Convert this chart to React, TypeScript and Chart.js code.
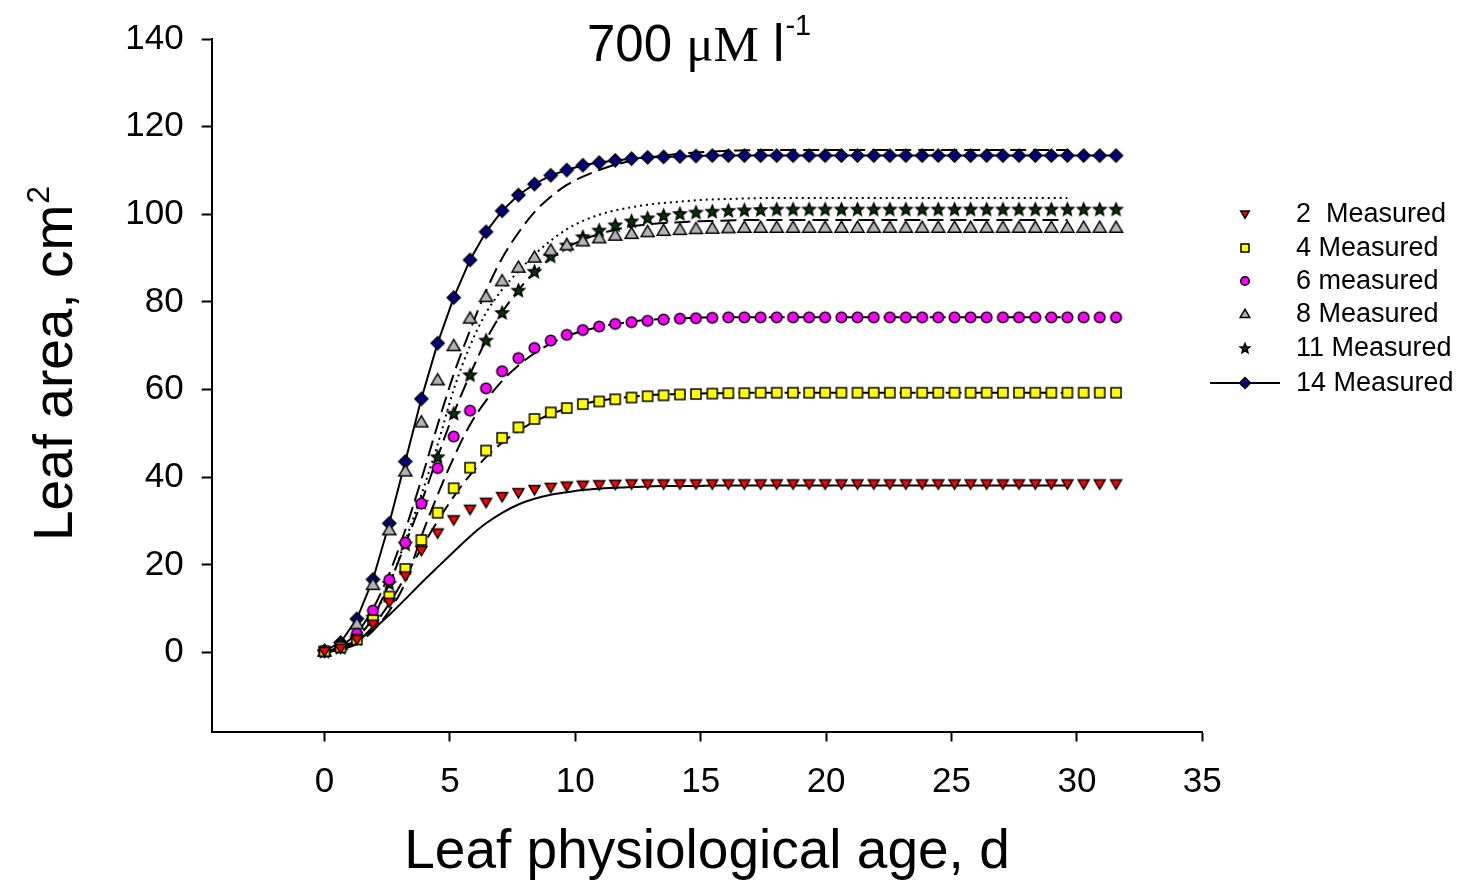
import React, { useEffect, useRef } from 'react';
import { Chart, registerables } from 'chart.js';

Chart.register(...registerables);

// Leaf physiological age (d) of measurement dates
const dayGrid = [
  0, 0.64, 1.29, 1.93, 2.58, 3.22, 3.86, 4.51, 5.15, 5.8,
  6.44, 7.08, 7.73, 8.37, 9.02, 9.66, 10.3, 10.95, 11.59, 12.24,
  12.88, 13.52, 14.17, 14.81, 15.46, 16.1, 16.74, 17.39, 18.03, 18.68,
  19.32, 19.96, 20.61, 21.25, 21.9, 22.54, 23.18, 23.83, 24.47, 25.12,
  25.76, 26.4, 27.05, 27.69, 28.34, 28.98, 29.62, 30.27, 30.91, 31.56,
];

// Measured leaf area (cm2)
const leaf2Measured = [
  0.3, 1.0, 3.0, 6.5, 11.5, 17.5, 23.3, 27.3, 30.3, 32.7,
  34.3, 35.6, 36.5, 37.2, 37.7, 38.0, 38.2, 38.3, 38.4, 38.5,
  38.5, 38.5, 38.5, 38.5, 38.5, 38.5, 38.5, 38.5, 38.5, 38.5,
  38.5, 38.5, 38.5, 38.5, 38.5, 38.5, 38.5, 38.5, 38.5, 38.5,
  38.5, 38.5, 38.5, 38.5, 38.5, 38.5, 38.5, 38.5, 38.5, 38.5,
];
const leaf4Measured = [
  0.3, 1.2, 3.0, 7.4, 12.8, 19.1, 25.7, 31.9, 37.5, 42.2,
  46.1, 49.0, 51.4, 53.3, 54.8, 55.8, 56.7, 57.3, 57.8, 58.2,
  58.5, 58.7, 58.9, 59.0, 59.1, 59.2, 59.2, 59.3, 59.3, 59.3,
  59.3, 59.3, 59.3, 59.3, 59.3, 59.3, 59.3, 59.3, 59.3, 59.3,
  59.3, 59.3, 59.3, 59.3, 59.3, 59.3, 59.3, 59.3, 59.3, 59.3,
];
const leaf6Measured = [
  0.3, 1.5, 4.3, 9.6, 16.6, 25.1, 34.0, 42.1, 49.3, 55.2,
  60.3, 64.2, 67.2, 69.5, 71.2, 72.5, 73.6, 74.4, 75.0, 75.4,
  75.7, 76.0, 76.2, 76.3, 76.4, 76.5, 76.5, 76.5, 76.5, 76.5,
  76.5, 76.5, 76.5, 76.5, 76.5, 76.5, 76.5, 76.5, 76.5, 76.5,
  76.5, 76.5, 76.5, 76.5, 76.5, 76.5, 76.5, 76.5, 76.5, 76.5,
];
const leaf8Measured = [
  0.3, 1.8, 6.5, 15.5, 28.0, 41.4, 52.6, 62.2, 70.0, 76.3,
  81.2, 84.8, 87.9, 90.2, 91.8, 93.0, 93.9, 94.6, 95.2, 95.6,
  96.0, 96.3, 96.5, 96.7, 96.8, 96.9, 97.0, 97.0, 97.0, 97.0,
  97.0, 97.0, 97.0, 97.0, 97.0, 97.0, 97.0, 97.0, 97.0, 97.0,
  97.0, 97.0, 97.0, 97.0, 97.0, 97.0, 97.0, 97.0, 97.0, 97.0,
];
const leaf11Measured = [
  0.3, 1.2, 3.2, 8.1, 15.8, 24.8, 34.3, 44.7, 54.6, 63.4,
  71.3, 77.6, 82.7, 87.0, 90.5, 93.0, 94.9, 96.4, 97.6, 98.5,
  99.2, 99.8, 100.2, 100.5, 100.7, 100.9, 101.0, 101.1, 101.2, 101.2,
  101.2, 101.2, 101.2, 101.2, 101.2, 101.2, 101.2, 101.2, 101.2, 101.2,
  101.2, 101.2, 101.2, 101.2, 101.2, 101.2, 101.2, 101.2, 101.2, 101.2,
];
const leaf14Measured = [
  0.4, 2.3, 7.7, 16.7, 29.5, 43.6, 57.9, 70.6, 81.0, 89.6,
  96.0, 100.8, 104.4, 106.9, 108.9, 110.1, 111.2, 111.8, 112.3, 112.7,
  113.0, 113.1, 113.2, 113.3, 113.4, 113.4, 113.4, 113.4, 113.4, 113.4,
  113.4, 113.4, 113.4, 113.4, 113.4, 113.4, 113.4, 113.4, 113.4, 113.4,
  113.4, 113.4, 113.4, 113.4, 113.4, 113.4, 113.4, 113.4, 113.4, 113.4,
];

// Simulated leaf area (cm2), first 47 dates
const leaf2Model = [
  0, 1.2, 2.8, 5.3, 8.6, 12.2, 15.9, 19.5, 23.0, 26.5,
  29.5, 31.9, 33.8, 35.1, 36.0, 36.6, 37.1, 37.4, 37.6, 37.8,
  37.9, 38.0, 38.0, 38.0, 38.1, 38.1, 38.1, 38.1, 38.1, 38.1,
  38.1, 38.1, 38.1, 38.1, 38.1, 38.1, 38.1, 38.1, 38.1, 38.1,
  38.1, 38.1, 38.1, 38.1, 38.1, 38.1, 38.1,
];
const leaf4Model = [
  0, 0.8, 2.5, 6.0, 11.2, 17.3, 23.8, 30.0, 35.6, 40.5,
  44.6, 47.9, 50.6, 52.7, 54.4, 55.7, 56.7, 57.5, 58.0, 58.4,
  58.7, 58.9, 59.0, 59.1, 59.2, 59.2, 59.3, 59.3, 59.3, 59.3,
  59.3, 59.3, 59.3, 59.3, 59.3, 59.3, 59.3, 59.3, 59.3, 59.3,
  59.3, 59.3, 59.3, 59.3, 59.3, 59.3, 59.3,
];
const leaf6Model = [
  0, 0.7, 2.0, 5.0, 9.5, 16.0, 26.5, 36.0, 44.5, 52.0,
  57.5, 62.0, 65.5, 68.3, 70.5, 72.2, 73.4, 74.3, 75.0, 75.5,
  75.9, 76.1, 76.3, 76.4, 76.5, 76.5, 76.5, 76.5, 76.5, 76.5,
  76.5, 76.5, 76.5, 76.5, 76.5, 76.5, 76.5, 76.5, 76.5, 76.5,
  76.5, 76.5, 76.5, 76.5, 76.5, 76.5, 76.5,
];
const leaf8Model = [
  0, 1.0, 3.2, 8.1, 15.8, 24.8, 34.3, 44.7, 54.6, 63.4,
  71.3, 77.6, 82.7, 86.8, 90.0, 92.4, 94.2, 95.5, 96.5, 97.2,
  97.7, 98.0, 98.2, 98.4, 98.5, 98.6, 98.7, 98.7, 98.7, 98.7,
  98.7, 98.7, 98.7, 98.7, 98.7, 98.7, 98.7, 98.7, 98.7, 98.7,
  98.7, 98.7, 98.7, 98.7, 98.7, 98.7, 98.7,
];
const leaf11Model = [
  0, 1.0, 3.5, 8.0, 15.5, 25.5, 36.0, 47.5, 60.0, 70.0,
  77.5, 82.8, 87.0, 90.8, 94.0, 96.6, 98.5, 99.9, 100.9, 101.6,
  102.2, 102.6, 102.9, 103.2, 103.4, 103.5, 103.6, 103.7, 103.7, 103.7,
  103.7, 103.7, 103.7, 103.7, 103.7, 103.7, 103.7, 103.7, 103.7, 103.7,
  103.7, 103.7, 103.7, 103.7, 103.7, 103.7, 103.7,
];
const leaf14Model = [
  0, 1.5, 4.5, 10.0, 18.0, 28.0, 39.5, 52.0, 63.5, 73.5,
  82.5, 90.0, 95.8, 100.5, 104.0, 106.7, 108.6, 110.1, 111.3, 112.2,
  112.9, 113.4, 113.8, 114.1, 114.3, 114.5, 114.6, 114.7, 114.7, 114.7,
  114.7, 114.7, 114.7, 114.7, 114.7, 114.7, 114.7, 114.7, 114.7, 114.7,
  114.7, 114.7, 114.7, 114.7, 114.7, 114.7, 114.7,
];

const xTickValues = [0, 5, 10, 15, 20, 25, 30, 35];
const yTickValues = [0, 20, 40, 60, 80, 100, 120, 140];
const legendLabels = ['2  Measured', '4 Measured', '6 measured', '8 Measured', '11 Measured', '14 Measured'];

type Kind = 'tdown' | 'square' | 'circle' | 'tup' | 'star' | 'diamond';
const markerKinds: Kind[] = ['tdown', 'square', 'circle', 'tup', 'star', 'diamond'];
const markerFills = ['#ff0000', '#ffff00', '#ff00ff', '#b4b4b4', '#003a00', '#000080'];
const chartSizes = [5.5, 5, 5.3, 6.5, 6.5, 6.5];
const legendSizes = [4.3, 4, 4.3, 4.8, 5, 5.5];

function shapePath(ctx: CanvasRenderingContext2D, kind: Kind, x: number, y: number, s: number) {
  ctx.beginPath();
  if (kind === 'tdown') {
    ctx.moveTo(x - s, y - s * 0.72);
    ctx.lineTo(x + s, y - s * 0.72);
    ctx.lineTo(x, y + s * 0.98);
    ctx.closePath();
  } else if (kind === 'tup') {
    ctx.moveTo(x - s, y + s * 0.72);
    ctx.lineTo(x + s, y + s * 0.72);
    ctx.lineTo(x, y - s * 0.98);
    ctx.closePath();
  } else if (kind === 'square') {
    ctx.rect(x - s, y - s, 2 * s, 2 * s);
  } else if (kind === 'circle') {
    ctx.arc(x, y, s, 0, Math.PI * 2);
  } else if (kind === 'diamond') {
    ctx.moveTo(x, y - s);
    ctx.lineTo(x + s, y);
    ctx.lineTo(x, y + s);
    ctx.lineTo(x - s, y);
    ctx.closePath();
  } else {
    for (let k = 0; k < 10; k++) {
      const r = k % 2 === 0 ? s : s * 0.45;
      const a = -Math.PI / 2 + (k * Math.PI) / 5;
      const px = x + r * Math.cos(a);
      const py = y + r * Math.sin(a) + s * 0.1;
      if (k === 0) ctx.moveTo(px, py);
      else ctx.lineTo(px, py);
    }
    ctx.closePath();
  }
}

function drawMarker(ctx: CanvasRenderingContext2D, idx: number, x: number, y: number, s: number) {
  shapePath(ctx, markerKinds[idx], x, y, s);
  ctx.fillStyle = markerFills[idx];
  ctx.fill();
  ctx.lineWidth = 1.5;
  ctx.strokeStyle = '#000';
  ctx.lineJoin = 'miter';
  ctx.stroke();
}

function markerImage(idx: number): HTMLCanvasElement {
  const s = chartSizes[idx];
  const size = Math.ceil(s * 2 + 6);
  const c = document.createElement('canvas');
  c.width = size;
  c.height = size;
  const ctx = c.getContext('2d')!;
  drawMarker(ctx, idx, size / 2, size / 2, s);
  return c;
}

const SANS = '"Liberation Sans", Arial, sans-serif';
const SERIF = '"Liberation Serif", "Times New Roman", serif';

const textPlugin = {
  id: 'textPlugin',
  afterDraw(chart: any) {
    const ctx: CanvasRenderingContext2D = chart.ctx;
    ctx.save();
    ctx.fillStyle = '#000';
    ctx.textBaseline = 'alphabetic';
    ctx.textAlign = 'left';

    // Title: 700 μM l-1
    let x = 587;
    const base = 61;
    ctx.font = `51px ${SANS}`;
    ctx.fillText('700 ', x, base);
    x += ctx.measureText('700 ').width;
    ctx.font = `51px ${SERIF}`;
    ctx.fillText('μM', x, base);
    x += ctx.measureText('μM').width;
    ctx.font = `51px ${SANS}`;
    ctx.fillText(' l', x, base);
    x += ctx.measureText(' l').width;
    ctx.font = `29px ${SANS}`;
    ctx.fillText('-1', x + 1, 35);

    // X axis title
    ctx.font = `55px ${SANS}`;
    ctx.textAlign = 'center';
    ctx.fillText('Leaf physiological age, d', 707, 868);

    // Y axis title
    ctx.save();
    ctx.translate(72, 541);
    ctx.rotate(-Math.PI / 2);
    ctx.textAlign = 'left';
    ctx.font = `55px ${SANS}`;
    ctx.fillText('Leaf area, cm', 0, 0);
    const w = ctx.measureText('Leaf area, cm').width;
    ctx.font = `32px ${SANS}`;
    ctx.fillText('2', w + 1, -23);
    ctx.restore();

    // Legend
    const rowsY = [214, 248, 281, 314, 348, 383];
    ctx.font = `27px ${SANS}`;
    ctx.textAlign = 'left';
    ctx.textBaseline = 'middle';
    for (let i = 0; i < legendLabels.length; i++) {
      const y = rowsY[i];
      if (i === 5) {
        ctx.beginPath();
        ctx.moveTo(1210, y);
        ctx.lineTo(1280, y);
        ctx.lineWidth = 2;
        ctx.strokeStyle = '#000';
        ctx.setLineDash([]);
        ctx.stroke();
      }
      drawMarker(ctx, i, 1245, y, legendSizes[i]);
      ctx.fillStyle = '#000';
      ctx.fillText(legendLabels[i], 1296, y + 1);
    }
    ctx.restore();
  },
};

function pts(values: number[]) {
  return values.map((v, i) => ({ x: dayGrid[i], y: v }));
}

export default function App() {
  const ref = useRef<HTMLCanvasElement | null>(null);

  useEffect(() => {
    if (!ref.current) return;
    const measuredSets = [leaf2Measured, leaf4Measured, leaf6Measured, leaf8Measured, leaf11Measured, leaf14Measured];
    const modelSets = [leaf2Model, leaf4Model, leaf6Model, leaf8Model, leaf11Model, leaf14Model];
    const modelDash = [[], [16, 7], [16, 7], [16, 7], [2, 4], [16, 7]];

    const datasets: any[] = [];
    measuredSets.forEach((vals, i) => {
      datasets.push({
        label: legendLabels[i],
        data: pts(vals),
        showLine: i === 5,
        borderColor: '#000',
        borderWidth: 2,
        tension: 0,
        pointStyle: markerImage(i),
        pointRadius: 6,
        order: 0,
      });
    });
    modelSets.forEach((vals, i) => {
      datasets.push({
        label: 'model ' + i,
        data: pts(vals),
        showLine: true,
        borderColor: '#000',
        borderWidth: 2,
        borderDash: modelDash[i],
        cubicInterpolationMode: 'monotone',
        pointRadius: 0,
        order: 1,
      });
    });

    const tickFont = { family: SANS, size: 35 };
    const chart = new Chart(ref.current, {
      type: 'line',
      data: { datasets },
      plugins: [textPlugin],
      options: {
        animation: false,
        responsive: false,
        devicePixelRatio: 1,
        layout: { padding: { top: 38, right: 259.7, left: 0, bottom: 0 } },
        plugins: { legend: { display: false }, tooltip: { enabled: false }, title: { display: false } },
        scales: {
          x: {
            type: 'linear',
            min: -4.5,
            max: 35,
            afterBuildTicks: (s: any) => {
              s.ticks = xTickValues.map((v) => ({ value: v }));
            },
            afterFit: (s: any) => {
              s.height = 148.5;
            },
            ticks: { font: tickFont, color: '#000', padding: 20, maxRotation: 0, autoSkip: false },
            grid: { drawOnChartArea: false, drawTicks: true, tickLength: 10, tickWidth: 2, tickColor: '#000' },
            border: { display: true, color: '#000', width: 2 },
          },
          y: {
            type: 'linear',
            min: -18,
            max: 140,
            afterBuildTicks: (s: any) => {
              s.ticks = yTickValues.map((v) => ({ value: v }));
            },
            afterFit: (s: any) => {
              s.width = 211.7;
            },
            ticks: { font: tickFont, color: '#000', padding: 18, autoSkip: false },
            grid: { drawOnChartArea: false, drawTicks: true, tickLength: 10, tickWidth: 2, tickColor: '#000' },
            border: { display: true, color: '#000', width: 2 },
          },
        },
      } as any,
    });
    return () => chart.destroy();
  }, []);

  return (
    <div style={{ position: 'absolute', left: 0, top: 0, width: 1462, height: 880, background: '#fff' }}>
      <canvas ref={ref} width={1462} height={880} style={{ width: 1462, height: 880, display: 'block' }} />
    </div>
  );
}
